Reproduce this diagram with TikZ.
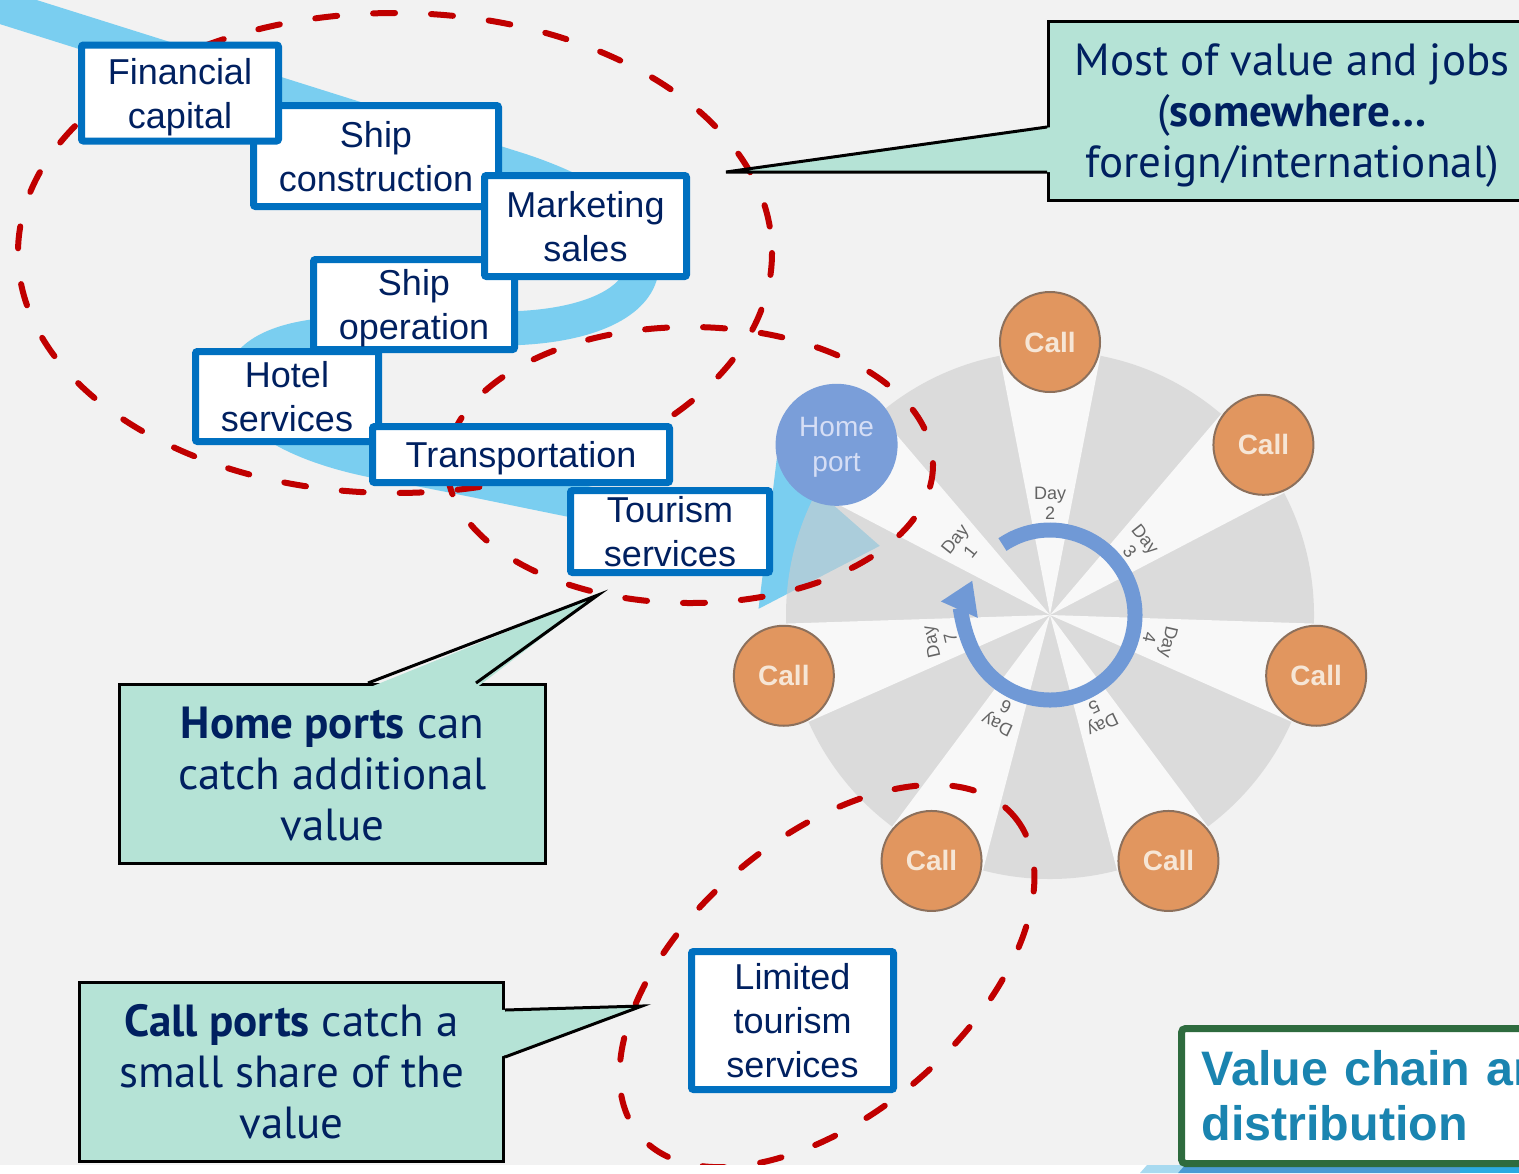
\documentclass[tikz,border=0pt]{standalone}
\usepackage{fontspec}
\setmainfont{Liberation Sans}
\newfontfamily\calloutfont{PT Sans}
\usepackage{xcolor}
\usetikzlibrary{arrows.meta, calc}

\definecolor{slidegray}{RGB}{242,242,242}
\definecolor{bandblue}{RGB}{122,206,240}
\definecolor{boxblue}{RGB}{0,112,192}
\definecolor{navy}{RGB}{0,32,96}
\definecolor{zonered}{RGB}{192,0,0}
\definecolor{mint}{RGB}{181,227,214}
\definecolor{discgray}{RGB}{205,205,205}
\definecolor{spoke}{RGB}{248,248,248}
\definecolor{callorange}{RGB}{225,150,95}
\definecolor{callrim}{RGB}{140,112,92}
\definecolor{calltext}{RGB}{246,230,214}
\definecolor{homeblue}{RGB}{122,158,217}
\definecolor{hometext}{RGB}{214,222,245}
\definecolor{ringblue}{RGB}{112,153,214}
\definecolor{daygray}{RGB}{100,100,100}
\definecolor{titleteal}{RGB}{26,132,176}
\definecolor{titlegreen}{RGB}{46,107,62}
\definecolor{stripsky}{RGB}{168,218,240}
\definecolor{stripmid}{RGB}{74,155,212}
\definecolor{stripcyan}{RGB}{41,171,226}

\begin{document}
\begin{tikzpicture}[
        x=0.5pt, y=-0.5pt,
        stage/.style={rectangle, draw=boxblue, line width=3.5pt, fill=white, rounded corners=1pt, inner sep=1pt, text depth=0pt, align=center, text=navy, font={\fontsize{18pt}{22pt}\selectfont}},
        callout/.style={rectangle, draw=black, line width=1.5pt, fill=mint, minimum height=89.5pt, align=center, text=navy, font={\calloutfont\fontsize{22.5pt}{25.5pt}\selectfont}},
        pointer/.style={draw=black, line width=1.5pt},
        zone/.style={draw=zonered, line width=3pt, dash pattern=on 11pt off 18pt, line cap=round},
        band/.style={draw=bandblue, line width=17pt},
        port/.style={circle, draw=callrim, line width=1pt, fill=callorange, minimum size=50pt, inner sep=0pt, text=calltext, font={\bfseries\fontsize{14pt}{16pt}\selectfont}},
        homeport/.style={circle, fill=homeblue, minimum size=61pt, inner sep=0pt, text depth=0pt, align=center, text=hometext, font={\fontsize{14pt}{17.5pt}\selectfont}},
        daylabel/.style={inner sep=0pt, align=center, text=daygray, font={\fontsize{9pt}{10pt}\selectfont}},
        cyclearrow/.style={draw=ringblue, line width=7.5pt, -{Triangle[width=19pt,length=16pt]}},
        titlebox/.style={rectangle, draw=titlegreen, line width=3.5pt, fill=white, rounded corners=2pt, minimum height=67.5pt, text width=300pt, inner xsep=10pt, align=left, text=titleteal, font={\bfseries\fontsize{24.2pt}{27.5pt}\selectfont}}
    ]
        \useasboundingbox (0,0) rectangle (1519,1173);
        \clip (0,0) rectangle (1519,1173);
        \fill[slidegray] (0,0) rectangle (1519,1165);

        \draw[band, -{Triangle[width=73pt,length=57pt]}] (-20,0) -- (520,170) .. controls (690,226) and (675,320) .. (520,328) -- (340,334) .. controls (200,340) and (210,430) .. (380,462) .. controls (480,480) and (600,508) .. (700,524) -- (881,546);

        \coordinate (hub) at (1050,615);
        \fill[discgray, fill opacity=0.6] (hub) circle[radius=264];
        \foreach \k in {0,...,6} {
            \pgfmathsetmacro\ang{-90+\k*360/7}
            \fill[spoke] (hub) -- ($(hub)+(\ang-11:264)$) arc[start angle=\ang-11, end angle=\ang+11, radius=264] -- cycle;
        }
        \draw[cyclearrow] ($(hub)+(-124:85)$) arc[start angle=-124, end angle=204, radius=85];
        \foreach \k in {0,...,6} {
            \pgfmathtruncatemacro\daynum{mod(\k+1,7)+1}
            \node[daylabel, rotate=-\k*360/7] (day\daynum) at ($(hub)+(-90+\k*360/7:112)$) {Day\\\daynum};
        }
        \foreach \k in {0,...,5}
            \node[port] (call\k) at ($(hub)+(-90+\k*360/7:273)$) {Call};
        \node[homeport] (home) at ($(hub)+(-90+6*360/7:273)$) {Home\\port};

        \coordinate (chainzone) at (395,253);
        \coordinate (homezone) at (690,465);
        \coordinate (callzone) at (827,976);
        \draw[zone] (chainzone) ellipse [x radius=377, y radius=240];
        \draw[zone] (homezone) ellipse [x radius=243, y radius=138];
        \draw[zone, rotate around={40.5:(callzone)}] (callzone) ellipse [x radius=246, y radius=138];

        \node[stage, minimum width=122.5pt, minimum height=50.5pt] (shipcon) at (376,156) {Ship\\construction};
        \node[stage, minimum width=98.5pt, minimum height=48pt] (fincap) at (180,93) {Financial\\capital};
        \node[stage, minimum width=100.5pt, minimum height=45pt] (shipop) at (414,304.5) {Ship\\operation};
        \node[stage, minimum width=101pt, minimum height=50.5pt] (marketing) at (585.5,226) {Marketing\\sales};
        \node[stage, minimum width=91.5pt, minimum height=45pt] (hotel) at (287,396.5) {Hotel\\services};
        \node[stage, minimum width=148.5pt, minimum height=28pt] (transport) at (521,454.5) {Transportation};
        \node[stage, minimum width=99.5pt, minimum height=41pt] (tourism) at (670,531.5) {Tourism\\services};
        \node[stage, minimum width=101pt, minimum height=69pt] (limited) at (792.5,1020.5) {Limited\\tourism\\services};

        \node[callout, minimum width=243.5pt, text depth=-1.5pt] (valuebox) at (1292,111) {Most of value and jobs\\(\textbf{somewhere…}\\foreign/international)};
        \coordinate (valuetip) at (726,172);
        \fill[mint] ($(valuebox.north west)+(5,107)$) -- (valuetip) -- ($(valuebox.north west)+(5,152)$) -- cycle;
        \draw[pointer] ($(valuebox.north west)+(0,107)$) -- (valuetip) -- ($(valuebox.north west)+(0,152)$);

        \node[callout, minimum width=213pt] (homebox) at (332.5,774) {\textbf{Home ports} can\\catch additional\\value};
        \coordinate (hometip) at (598,595);
        \fill[mint] ($(homebox.north west)+(250,5)$) -- (hometip) -- ($(homebox.north west)+(358,5)$) -- cycle;
        \draw[pointer] ($(homebox.north west)+(250,0)$) -- (hometip) -- ($(homebox.north west)+(358,0)$);

        \node[callout, minimum width=212pt] (callbox) at (291.5,1072) {\textbf{Call ports} catch a\\small share of the\\value};
        \coordinate (calltip) at (642,1006);
        \fill[mint] ($(callbox.north east)+(-5,29)$) -- (calltip) -- ($(callbox.north east)+(-5,76)$) -- cycle;
        \draw[pointer] ($(callbox.north east)+(0,29)$) -- (calltip) -- ($(callbox.north east)+(0,76)$);

        \fill[white] (0,1165) rectangle (1519,1173);
        \fill[stripsky] (1140,1173) -- (1147,1165) -- (1185,1165) -- (1178,1173) -- cycle;
        \fill[stripmid] (1178,1173) -- (1185,1165) -- (1460,1165) -- (1460,1173) -- cycle;
        \fill[stripcyan] (1460,1165) rectangle (1519,1173);

        \node[titlebox, anchor=north west] (title) at (1178,1025) {Value chain and\\distribution};
    \end{tikzpicture}
\end{document}
